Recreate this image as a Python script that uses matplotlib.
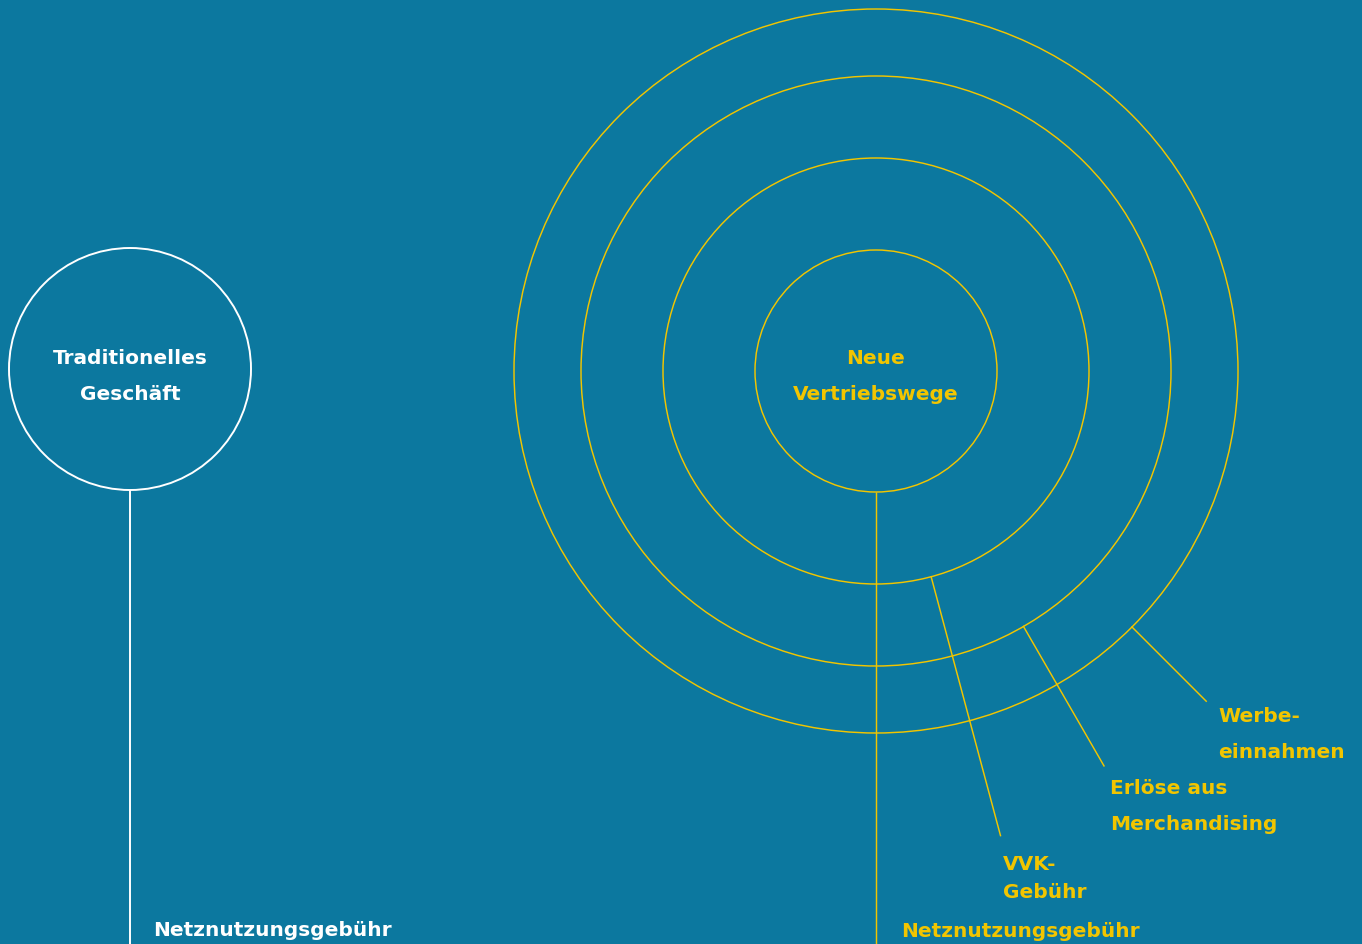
import numpy as np
import matplotlib
matplotlib.use("Agg")
import matplotlib.pyplot as plt
from matplotlib.patches import Circle

BG = "#0C789F"
YELLOW = "#F2C500"
WHITE = "#FFFFFF"

# Left: traditional business
trad_center = (130, 370)
trad_radius = 121
trad_title = ["Traditionelles", "Geschäft"]
trad_bottom_label = "Netznutzungsgebühr"

# Right: new channels, concentric rings
new_center = (876, 372)
ring_radii = [121, 213, 295, 362]
new_title = ["Neue", "Vertriebswege"]
new_bottom_label = "Netznutzungsgebühr"

# Leaders: ring index, angle (deg, clockwise from right), end distance, label lines
leader_ring = [1, 2, 3]
leader_angle = [75, 60, 45]
leader_end = [481, 456, 467]
leader_labels = [["VVK-", "Gebühr"], ["Erlöse aus", "Merchandising"], ["Werbe-", "einnahmen"]]
label_pos = [(1003, 870), (1110, 794.5), (1218, 722)]
label_lsp = [28, 36, 36]

fig = plt.figure(figsize=(13.62, 9.45), dpi=100, facecolor=BG)
ax = fig.add_axes([0, 0, 1, 1])
ax.set_xlim(0, 1362)
ax.set_ylim(945, 0)
ax.set_aspect("equal")
ax.axis("off")
ax.set_facecolor(BG)

font = dict(family=["DejaVu Sans"], weight="bold", fontsize=14.5)

# Left circle
ax.add_patch(Circle(trad_center, trad_radius, fill=False, ec=WHITE, lw=1.4))
ax.plot([trad_center[0], trad_center[0]], [trad_center[1] + trad_radius, 945],
        color=WHITE, lw=1.4, solid_capstyle="butt")
for i, t in enumerate(trad_title):
    ax.text(trad_center[0], 364.5 + i * 36, t, color=WHITE, ha="center", va="baseline", **font)
ax.text(153, 936.5, trad_bottom_label, color=WHITE, ha="left", va="baseline", **font)

# Right rings
for r in ring_radii:
    ax.add_patch(Circle(new_center, r, fill=False, ec=YELLOW, lw=1.05))
ax.plot([new_center[0], new_center[0]], [new_center[1] + ring_radii[0], 945],
        color=YELLOW, lw=1.05, solid_capstyle="butt")
for i, t in enumerate(new_title):
    ax.text(new_center[0], 364.5 + i * 36, t, color=YELLOW, ha="center", va="baseline", **font)
ax.text(901, 937, new_bottom_label, color=YELLOW, ha="left", va="baseline", **font)

for ri, ang, end, lines, (lx, ly), lsp in zip(leader_ring, leader_angle, leader_end,
                                             leader_labels, label_pos, label_lsp):
    a = np.deg2rad(ang)
    r0 = ring_radii[ri]
    x0 = new_center[0] + r0 * np.cos(a)
    y0 = new_center[1] + r0 * np.sin(a)
    x1 = new_center[0] + end * np.cos(a)
    y1 = new_center[1] + end * np.sin(a)
    ax.plot([x0, x1], [y0, y1], color=YELLOW, lw=1.05)
    for j, t in enumerate(lines):
        ax.text(lx, ly + j * lsp, t, color=YELLOW, ha="left", va="baseline", **font)

fig.savefig("out.png", dpi=100, facecolor=BG)
